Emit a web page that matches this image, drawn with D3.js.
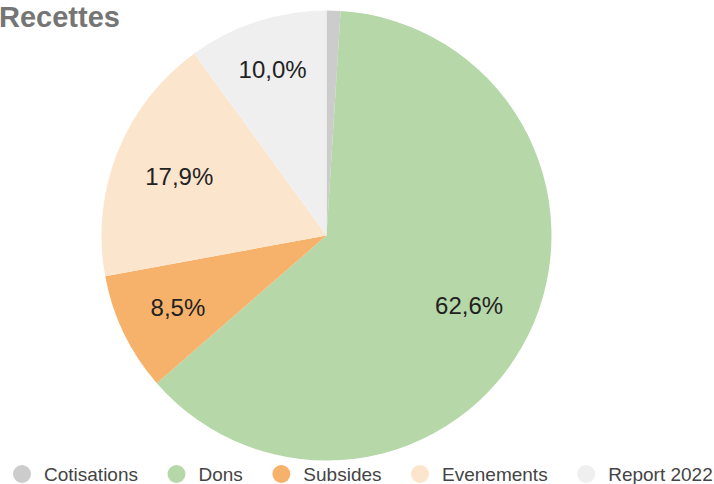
<!DOCTYPE html>
<html>
<head>
<meta charset="utf-8">
<script src="https://cdn.jsdelivr.net/npm/d3@7"></script>
<style>
  html, body { margin: 0; padding: 0; background: #fff; }
  svg { display: block; font-family: "Liberation Sans", Arial, sans-serif; }
</style>
</head>
<body>
<svg id="chart" width="714" height="484"></svg>
<script>
const title = "Recettes";
const categories = ["Cotisations", "Dons", "Subsides", "Evenements", "Report 2022"];
const values = [1.0, 62.6, 8.5, 17.9, 10.0];
const colors = ["#cccccc", "#b6d7a8", "#f6b26b", "#fce5cd", "#efefef"];

const W = 714, H = 484;
const cx = 326.5, cy = 235.5, R = 225;

const svg = d3.select("#chart");

svg.append("text")
  .attr("x", -1).attr("y", 27)
  .attr("font-size", 29).attr("font-weight", "bold")
  .attr("fill", "#757575")
  .text(title);

const data = categories.map((c, i) => ({ name: c, value: values[i], color: colors[i] }));
const pie = d3.pie().sort(null).value(d => d.value);
const arcs = pie(data);
const arc = d3.arc().innerRadius(0).outerRadius(R);

const g = svg.append("g").attr("transform", `translate(${cx},${cy})`);
g.selectAll("path").data(arcs).enter().append("path")
  .attr("d", arc)
  .attr("fill", d => d.data.color);

const total = d3.sum(values);
const fmt = v => (v / total * 100).toFixed(1).replace(".", ",") + "%";

g.selectAll("text.lbl").data(arcs.filter(d => d.data.value / total >= 0.05)).enter()
  .append("text")
  .attr("class", "lbl")
  .attr("font-size", 24)
  .attr("fill", "#222")
  .attr("text-anchor", "middle")
  .attr("dy", "0.35em")
  .text(d => fmt(d.data.value))
  .each(function(d) {
    const bb = this.getBBox();
    const a = (d.startAngle + d.endAngle) / 2;
    const s = Math.sin(a), c = Math.cos(a);
    const ext = bb.width / 2 * Math.abs(s) + 9 * Math.abs(c);
    const r = 0.86 * R - ext;
    d3.select(this).attr("x", r * s).attr("y", -r * c);
  });

// legend
const leg = svg.append("g");
let x = 13;
const ly = 474;
data.forEach(d => {
  leg.append("circle").attr("cx", x + 9).attr("cy", ly).attr("r", 9).attr("fill", d.color);
  const t = leg.append("text").attr("x", x + 31).attr("y", ly).attr("dy", "0.35em")
    .attr("font-size", 19).attr("fill", "#444").text(d.name);
  x += 31 + t.node().getComputedTextLength() + 29.5;
});
</script>
</body>
</html>
